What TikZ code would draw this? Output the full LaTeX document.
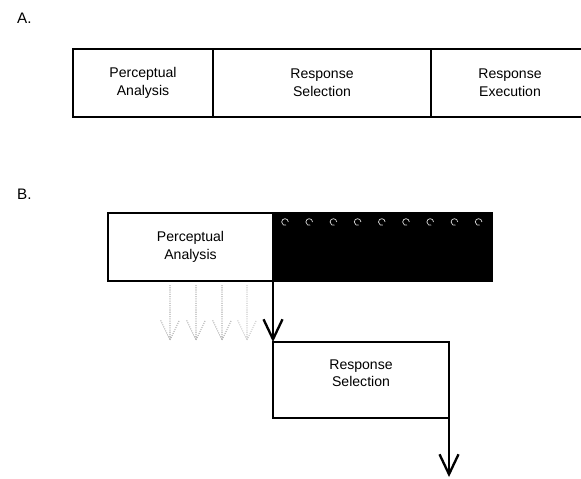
\documentclass[tikz,border=0pt]{standalone}
\usepackage{fontspec}
\setmainfont{Liberation Sans}
\usetikzlibrary{positioning,arrows.meta}

\tikzset{
  stage/.style={draw, line width=2pt, outer sep=0pt, inner sep=0pt,
    align=center, minimum height=2.04cm, font=\fontsize{12}{15}\selectfont},
  flow/.style={line width=2pt,
    -{Straight Barb[length=0.6cm, width=0.57cm, line width=2pt]}},
  ghost/.style={line width=0.9pt, densely dotted},
}

\begin{document}
\begin{tikzpicture}[x=0.03cm,y=-0.03cm]
    \useasboundingbox (0,0) rectangle (581,479);
    % A. serial stages
    \node[anchor=base west, font=\fontsize{13}{15}\selectfont] (labA) at (13,24) {A.};
    \node[stage, minimum width=4.2cm, anchor=north west] (percA) at (73,49) {Perceptual\\Analysis};
    \node[stage, minimum width=6.54cm, right=0pt of percA] (selA) {Response\\Selection};
    \node[stage, minimum width=4.74cm, right=0pt of selA] (execA) {Response\\Execution};
    % B. overlapping stages
    \node[anchor=base west, font=\fontsize{13}{15}\selectfont] (labB) at (13,199) {B.};
    \node[stage, minimum width=4.95cm, anchor=north west] (percB) at (108,213) {Perceptual\\Analysis};
    \node[stage, fill=black, minimum width=6.57cm, right=0pt of percB] (heldB) {};
    \foreach \i in {0,...,8}
      \draw[gray!30, line width=0.6pt] ({285+24.2*\i},222) ++(0.1cm,0)
        arc[start angle=0, end angle=290, radius=0.1cm];
    \node[stage, minimum width=5.28cm, minimum height=2.28cm, text depth=0.42cm,
      below=1.83cm of percB.south east, anchor=north west] (selB) {Response\\Selection};
    \coordinate[below=1.77cm of selB.south east] (outB);
    \draw[flow] (percB.south east) -- (selB.north west);
    \draw[flow] (selB.south east) -- (outB);
    % partial output, dotted
    \foreach \x/\c in {170/60,196/60,222/60,247/40}
      \draw[ghost, gray!\c] (\x,285) -- (\x,340) -- ++(-9.5,-20)
        (\x,340) -- ++(9.5,-20);
\end{tikzpicture}
\end{document}
